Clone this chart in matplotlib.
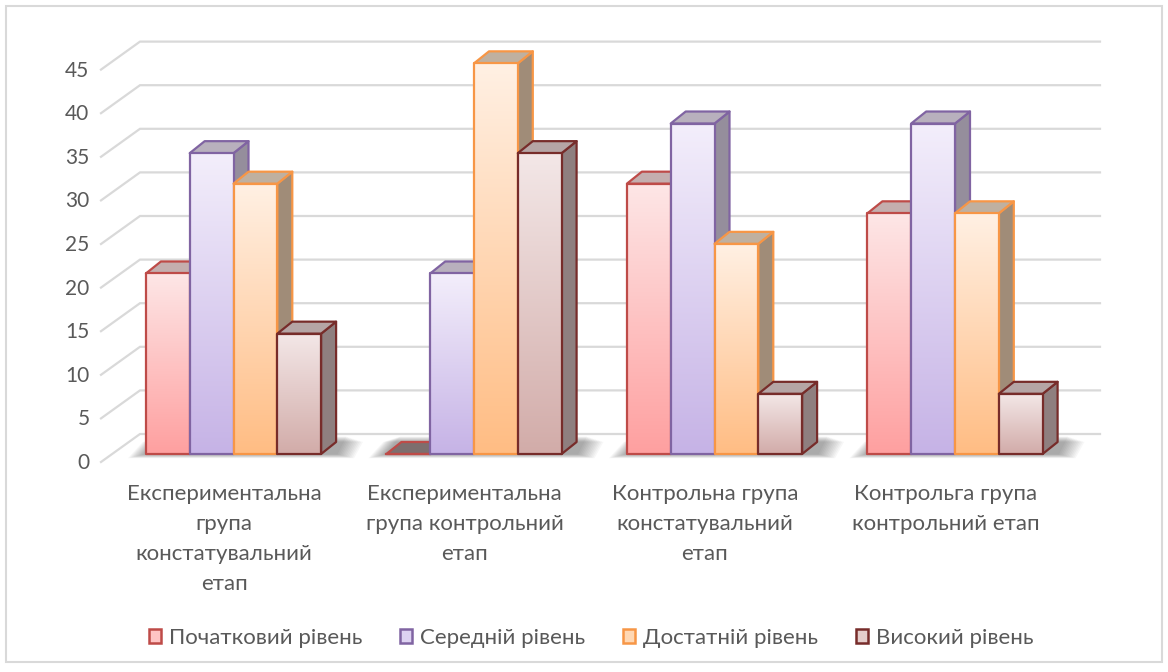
import numpy as np
import matplotlib.pyplot as plt
from matplotlib.colors import to_rgb
from matplotlib.patches import Patch, Polygon, Rectangle

plt.rcParams['font.family'] = ['Lato', 'Noto Sans', 'DejaVu Sans']

categories = ['Експериментальна\nгрупа\nконстатувальний\nетап',
              'Експериментальна\nгрупа контрольний\nетап',
              'Контрольна група\nконстатувальний\nетап',
              'Контрольга група\nконтрольний етап']
series_names = ['Початковий рівень', 'Середній рівень', 'Достатній рівень', 'Високий рівень']
initial_level = [20.7, 0, 31.0, 27.6]
middle_level = [34.5, 20.7, 37.9, 37.9]
sufficient_level = [31.0, 44.8, 24.1, 27.6]
high_level = [13.8, 34.5, 6.9, 6.9]
y_ticks = [0, 5, 10, 15, 20, 25, 30, 35, 40, 45]

series_values = [initial_level, middle_level, sufficient_level, high_level]
edge_colors = ['#BE4B48', '#8064A2', '#F79646', '#772C2A']
grad_top = ['#FDE6E6', '#F3EEFB', '#FFF0E3', '#F3E7E7']
grad_bottom = ['#FFA0A0', '#C6B3E6', '#FFBD84', '#D2ACA9']
legend_fill = ['#FFC4C4', '#DDD2F1', '#FFD8B4', '#E4CDCB']
top_colors = ['#C4AEAE', '#B8B0BD', '#BFB0A0', '#B5A5A5']
side_colors = ['#A08F8F', '#958E9C', '#A08C78', '#8F7F7F']
text_color = '#595959'

W, H = 1168, 672
fig = plt.figure(figsize=(W / 100, H / 100), dpi=100, facecolor='white')

# axes box in pixels, then data limits that keep 240.5 px per group, 8.72 px per unit
left, right, top, bottom = 60, 1110, 30, 475
ax = fig.add_axes([left / W, 1 - bottom / H, (right - left) / W, (bottom - top) / H])
px_x = 240.5
px_y = 8.72
x0_px, y0_px = 233.5, 454
ax.axis('off')

bar_w = 43.8 / px_x
dx = 15 / px_x
dy = 12 / px_y


def gradient(poly_pts, x1, x2, y1, y2, c_top, c_bottom, zorder):
    rows = np.linspace(0, 1, 64)[:, None]
    img = (1 - rows) * np.array(to_rgb(c_top)) + rows * np.array(to_rgb(c_bottom))
    im = ax.imshow(img[:, None, :], extent=(x1, x2, y1, y2), aspect='auto',
                   origin='upper', interpolation='bilinear', zorder=zorder)
    clip = Polygon(poly_pts, closed=True, transform=ax.transData)
    im.set_clip_path(clip)


# walls
gx1 = (101 - x0_px) / px_x
gx2 = (140 - x0_px) / px_x
gx3 = (1100 - x0_px) / px_x
for v in y_ticks:
    ax.plot([gx1, gx2, gx3], [v - 8 / px_y, v + 20 / px_y, v + 20 / px_y],
            color='#D9D9D9', lw=1.6, zorder=1, solid_joinstyle='miter')
    ax.text((89.5 - x0_px) / px_x, v - 9 / px_y, str(v), ha='right', va='center',
            fontsize=15, color=text_color, clip_on=False)

# bars
z = 5
for i in range(len(categories)):
    x_start = i - 2 * bar_w

    # soft shadow on the floor
    for k in range(12):
        grow = (12 - k) * 1.5 / px_x
        sl = x_start - grow
        sr = x_start + 4 * bar_w + grow
        sy = -(12 - k) * 0.35 / px_y
        rise = (1.5 - 0.04 * (12 - k)) * dy
        ax.add_patch(Polygon([(sl, sy), (sr + dx, sy), (sr + 1.6 * dx, rise),
                              (sl + dx, rise)],
                             closed=True, fc='black', ec='none', alpha=0.032, zorder=2))

    for s in range(len(series_names)):
        val = series_values[s][i]
        x1 = x_start + s * bar_w
        x2 = x1 + bar_w
        ec = edge_colors[s]

        # right side
        side = [(x2, 0), (x2 + dx, dy), (x2 + dx, val + dy), (x2, val)]
        ax.add_patch(Polygon(side, closed=True, fc=side_colors[s], ec=ec, lw=1.6,
                             joinstyle='round', zorder=z))
        # top
        roof = [(x1, val), (x2, val), (x2 + dx, val + dy), (x1 + dx, val + dy)]
        roof_fc = '#7D6E6E' if val == 0 else top_colors[s]
        ax.add_patch(Polygon(roof, closed=True, fc=roof_fc, ec=ec, lw=1.6,
                             joinstyle='round', zorder=z))
        # front
        if val > 0:
            front = [(x1, 0), (x2, 0), (x2, val), (x1, val)]
            gradient(front, x1, x2, 0, val, grad_top[s], grad_bottom[s], z + 0.1)
            ax.add_patch(Rectangle((x1, 0), bar_w, val, fc='none', ec=ec, lw=1.6,
                                   joinstyle='round', zorder=z + 0.2))
        else:
            ax.plot([x1, x2], [0, 0], color=ec, lw=1.6, zorder=z + 0.2)
        z += 1

# category labels
for i, label in enumerate(categories):
    ax.text(i - 9.5 / px_x, -(484 - y0_px) / px_y, label, ha='center', va='top',
            fontsize=16, color=text_color, linespacing=1.63, clip_on=False)

ax.set_xlim((left - x0_px) / px_x, (right - x0_px) / px_x)
ax.set_ylim((y0_px - bottom) / px_y, (y0_px - top) / px_y)

# legend
handles = [Patch(facecolor=c, edgecolor=e, lw=1.8) for c, e in zip(legend_fill, edge_colors)]
fig.legend(handles, series_names, loc='center', bbox_to_anchor=(591 / W, 1 - 638 / H), ncol=4,
           frameon=False, fontsize=16, labelcolor=text_color, handlelength=0.55,
           handleheight=0.55, handletextpad=0.35, columnspacing=1.7)

# chart frame
fig.add_artist(Rectangle((6 / W, 1 - 662 / H), (1162 - 6) / W, (662 - 5.5) / H,
                         transform=fig.transFigure, fc='none', ec='#D9D9D9', lw=1.5))

plt.savefig('out.png', dpi=100)
